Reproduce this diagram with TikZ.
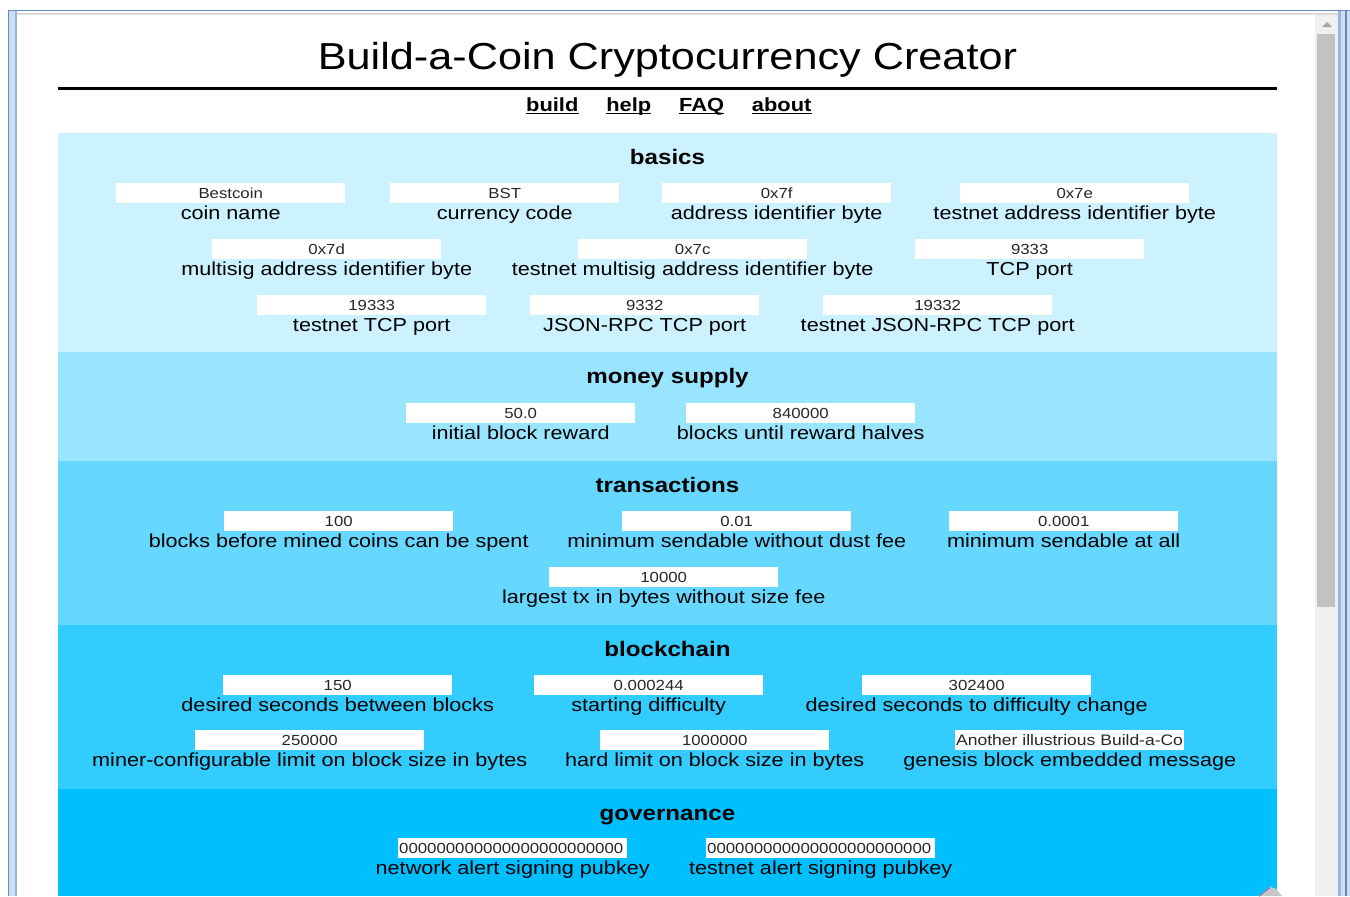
\documentclass[tikz,border=0pt]{standalone}
\usepackage{fontspec}
\setmainfont{Liberation Sans}[FakeStretch=1.15]
\usetikzlibrary{positioning}

\definecolor{skyblue}{RGB}{0,191,255}
\definecolor{framedark}{RGB}{104,138,196}
\definecolor{framemid}{RGB}{150,182,226}
\definecolor{framelight}{RGB}{204,222,244}
\definecolor{trackgrey}{RGB}{240,240,240}
\definecolor{thumbgrey}{RGB}{194,194,194}

\tikzset{
  valbox/.style={fill=white, minimum width=229pt, minimum height=19.5pt, inner sep=0pt,
    text height=12pt, text depth=0pt, font=\fontsize{14.6}{16}\selectfont, text=black!85},
  valboxleft/.style={valbox, text width=227pt, align=left},
  fieldlabel/.style={inner sep=0pt, text height=15pt, text depth=4pt,
    font=\fontsize{18.8}{22}\selectfont},
  secttitle/.style={anchor=base, inner sep=0pt, font=\fontsize{21}{24}\selectfont\bfseries},
  navlink/.style={inner sep=0pt, text height=14pt, text depth=4pt,
    font=\fontsize{19}{22}\selectfont\bfseries},
}

\begin{document}
\begin{tikzpicture}[x=1pt, y=-1pt, node distance=27.5pt]
    % Window frame and scrollbar
    \fill[white] (0,0) rectangle (1350,896);
    \fill[framelight] (7.5,9.5) rectangle (17.3,896);
    \fill[framelight] (1338,9.5) rectangle (1350,896);
    \fill[framedark] (7.5,9.5) rectangle (1350,11.2);
    \fill[framedark] (7.5,9.5) rectangle (9.3,896);
    \fill[framemid] (14.8,11.2) rectangle (17.3,896);
    \fill[framemid] (1338,11.2) rectangle (1340.5,896);
    \fill[framedark] (1345,11.2) rectangle (1346.8,896);
    \fill[gray!28] (17.3,12.7) rectangle (1338,15);
    \fill[trackgrey] (1315,15) rectangle (1338,896);
    \fill[thumbgrey] (1317,34) rectangle (1335,607);
    \fill[gray!70] (1322,27) -- (1332,27) -- (1327,22) -- cycle;

    % Heading and menu
    \node (title) [anchor=base, inner sep=0pt, font=\fontsize{37.6}{44}\selectfont] at (667.5,69.5) {Build-a-Coin Cryptocurrency Creator};
    \draw[line width=2.2pt] (58,88.5) -- (1277,88.5);
    \node (build) [navlink, anchor=base west] at (526,111) {build};
    \node (help) [navlink, right=of build] {help};
    \node (faq) [navlink, right=of help] {FAQ};
    \node (about) [navlink, right=of faq] {about};
    \foreach \n in {build,help,faq,about}
        \draw[line width=1.4pt] ([yshift=-2.2pt]\n.base west) -- ([yshift=-2.2pt]\n.base east);

    % Section bands
    \fill[skyblue!20] (58,133) rectangle (1277,352);
    \fill[skyblue!40] (58,352) rectangle (1277,461);
    \fill[skyblue!60] (58,461) rectangle (1277,625);
    \fill[skyblue!80] (58,625) rectangle (1277,789);
    \fill[skyblue] (58,789) rectangle (1277,896);

    % basics
    \node (basics) [secttitle] at (667.5,164) {basics};
    \node (box1) [valbox, anchor=north west] at (116,183) {Bestcoin};
    \node (lbl1) [fieldlabel, below=1pt of box1] {coin name};
    \node (box2) [valbox, anchor=north west] at (390,183) {BST};
    \node (lbl2) [fieldlabel, below=1pt of box2] {currency code};
    \node (box3) [valbox, anchor=north west] at (662,183) {0x7f};
    \node (lbl3) [fieldlabel, below=1pt of box3] {address identifier byte};
    \node (box4) [valbox, anchor=north west] at (960,183) {0x7e};
    \node (lbl4) [fieldlabel, below=1pt of box4] {testnet address identifier byte};
    \node (box5) [valbox, anchor=north west] at (212,239) {0x7d};
    \node (lbl5) [fieldlabel, below=1pt of box5] {multisig address identifier byte};
    \node (box6) [valbox, anchor=north west] at (578,239) {0x7c};
    \node (lbl6) [fieldlabel, below=1pt of box6] {testnet multisig address identifier byte};
    \node (box7) [valbox, anchor=north west] at (915,239) {9333};
    \node (lbl7) [fieldlabel, below=1pt of box7] {TCP port};
    \node (box8) [valbox, anchor=north west] at (257,295) {19333};
    \node (lbl8) [fieldlabel, below=1pt of box8] {testnet TCP port};
    \node (box9) [valbox, anchor=north west] at (530,295) {9332};
    \node (lbl9) [fieldlabel, below=1pt of box9] {JSON-RPC TCP port};
    \node (box10) [valbox, anchor=north west] at (823,295) {19332};
    \node (lbl10) [fieldlabel, below=1pt of box10] {testnet JSON-RPC TCP port};

    % money supply
    \node (money) [secttitle] at (667.5,383) {money supply};
    \node (box11) [valbox, anchor=north west] at (406,403) {50.0};
    \node (lbl11) [fieldlabel, below=1pt of box11] {initial block reward};
    \node (box12) [valbox, anchor=north west] at (686,403) {840000};
    \node (lbl12) [fieldlabel, below=1pt of box12] {blocks until reward halves};

    % transactions
    \node (trans) [secttitle] at (667.5,492) {transactions};
    \node (box13) [valbox, anchor=north west] at (224,511) {100};
    \node (lbl13) [fieldlabel, below=1pt of box13] {blocks before mined coins can be spent};
    \node (box14) [valbox, anchor=north west] at (622,511) {0.01};
    \node (lbl14) [fieldlabel, below=1pt of box14] {minimum sendable without dust fee};
    \node (box15) [valbox, anchor=north west] at (949,511) {0.0001};
    \node (lbl15) [fieldlabel, below=1pt of box15] {minimum sendable at all};
    \node (box16) [valbox, anchor=north west] at (549,567) {10000};
    \node (lbl16) [fieldlabel, below=1pt of box16] {largest tx in bytes without size fee};

    % blockchain
    \node (chain) [secttitle] at (667.5,656) {blockchain};
    \node (box17) [valbox, anchor=north west] at (223,675) {150};
    \node (lbl17) [fieldlabel, below=1pt of box17] {desired seconds between blocks};
    \node (box18) [valbox, anchor=north west] at (534,675) {0.000244};
    \node (lbl18) [fieldlabel, below=1pt of box18] {starting difficulty};
    \node (box19) [valbox, anchor=north west] at (862,675) {302400};
    \node (lbl19) [fieldlabel, below=1pt of box19] {desired seconds to difficulty change};
    \node (box20) [valbox, anchor=north west] at (195,730) {250000};
    \node (lbl20) [fieldlabel, below=1pt of box20] {miner-configurable limit on block size in bytes};
    \node (box21) [valbox, anchor=north west] at (600,730) {1000000};
    \node (lbl21) [fieldlabel, below=1pt of box21] {hard limit on block size in bytes};
    \node (box22) [valboxleft, anchor=north west, font=\fontsize{15.2}{17}\selectfont] at (955,730) {Another illustrious Build-a-Co};
    \node (lbl22) [fieldlabel, below=1pt of box22] {genesis block embedded message};

    % governance
    \node (gov) [secttitle] at (667.5,820) {governance};
    \node (box23) [valboxleft, anchor=north west] at (398,838) {000000000000000000000000};
    \node (lbl23) [fieldlabel, below=1pt of box23] {network alert signing pubkey};
    \node (box24) [valboxleft, anchor=north west] at (706,838) {000000000000000000000000};
    \node (lbl24) [fieldlabel, below=1pt of box24] {testnet alert signing pubkey};

    % pointer at the bottom edge
    \fill[gray!45] (1258,896) -- (1270,886.5) -- (1276,889) -- (1282,896) -- cycle;
    \draw[framedark, line width=1.5pt] (1259,896) -- (1270,887.5);
\end{tikzpicture}
\end{document}
